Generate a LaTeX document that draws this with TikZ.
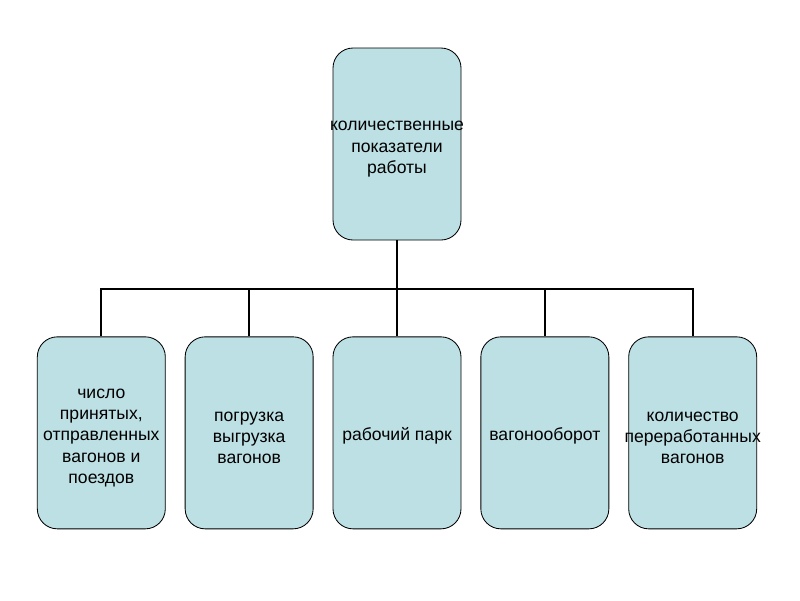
\documentclass[tikz,border=0pt]{standalone}
\usepackage{fontspec}
\setmainfont{Liberation Sans}
\usetikzlibrary{positioning}
\definecolor{boxfill}{RGB}{189,224,228}
\newcommand\wideline[1]{\makebox[3.2cm]{#1}}
\newcommand\pushdown{\rule{0pt}{14pt}}

\begin{document}
\begin{tikzpicture}[align=center, node distance=2.4cm and 0.475cm]
    \tikzset{
        n/.style        =   { rectangle
                            , rounded corners=0.5cm
                            , text centered
                            , draw=black
                            , fill=boxfill
                            , line width=0.6pt
                            , inner xsep=0pt
                            , minimum width=3.2cm
                            , minimum height=4.8cm
                            , font=\fontsize{12.5}{15.1}\selectfont
        }
        , link/.style   =   { line width=1.4pt
        }
    }
    \useasboundingbox (0,0) rectangle (20,-15);
    \node(0)[n] at (9.925,-3.6) {\pushdown\wideline{количественные}\\показатели\\работы};
    \node(3)[n, below=of 0]     {\pushdown рабочий парк};
    \node(2)[n, left=of 3]      {\pushdown погрузка\\выгрузка\\вагонов};
    \node(1)[n, left=of 2]      {\pushdown число\\принятых,\\\wideline{отправленных}\\вагонов и\\поездов};
    \node(4)[n, right=of 3]     {\pushdown вагонооборот};
    \node(5)[n, right=of 4]     {\pushdown количество\\\wideline{переработанных}\\вагонов};
    \path (0.south) -- (3.north) coordinate[pos=0.51] (bus);

    \draw[link] (0.south) -- (3.north);
    \draw[link] (1.north) |- (bus);
    \draw[link] (5.north) |- (bus);
    \draw[link] (2.north) -- (2.north|-bus);
    \draw[link] (4.north) -- (4.north|-bus);
\end{tikzpicture}
\end{document}
